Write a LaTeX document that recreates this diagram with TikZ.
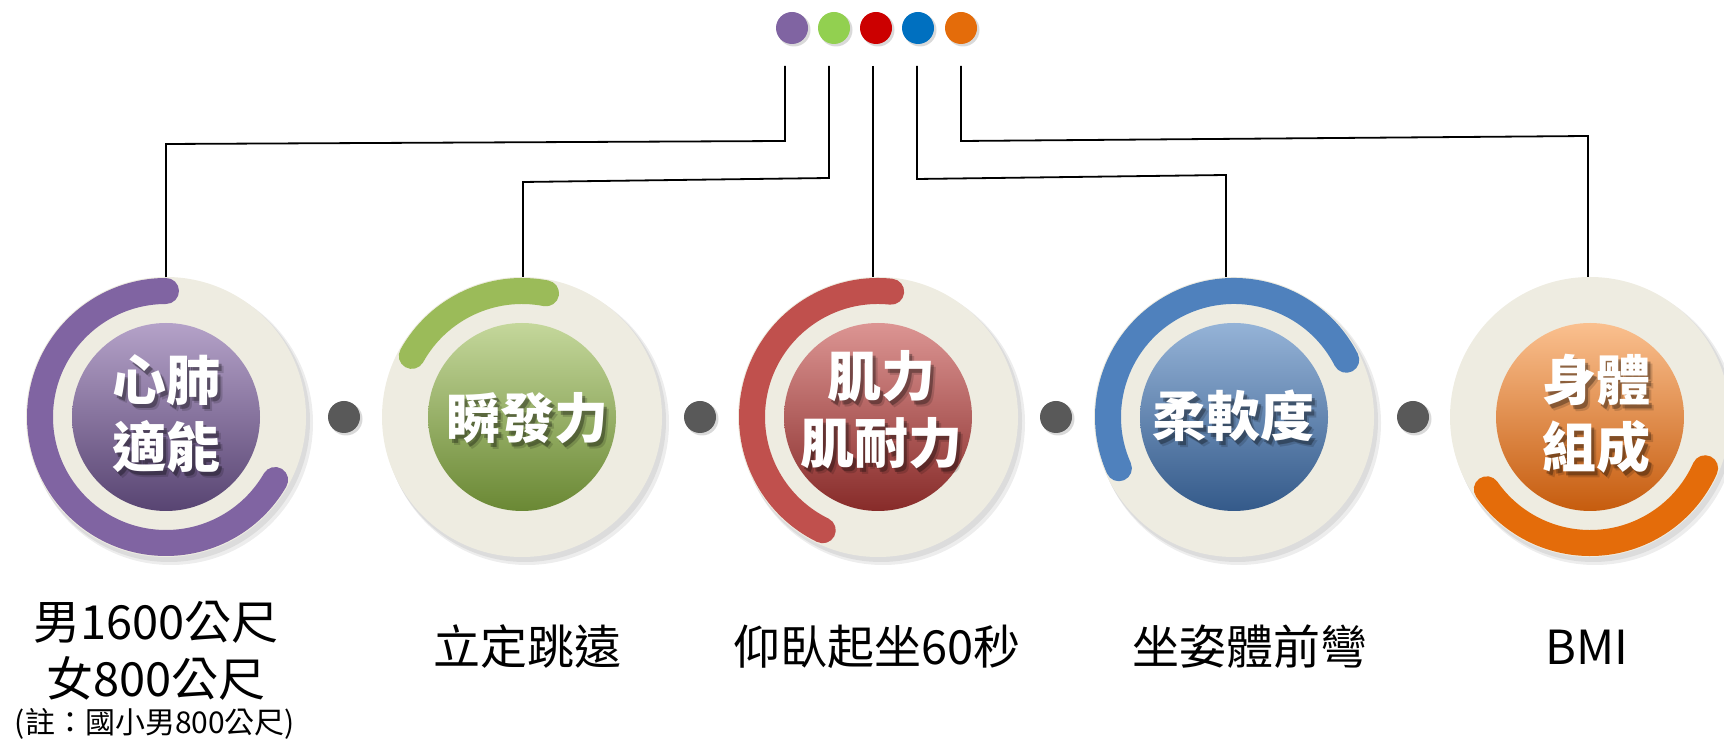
\documentclass[tikz,border=0pt]{standalone}
\usepackage{fontspec}
\setmainfont{Noto Sans CJK TC}
\definecolor{beige}{HTML}{EEECE1}
\definecolor{dotgray}{HTML}{595959}
\definecolor{pArc}{HTML}{8064A2}
\definecolor{gArc}{HTML}{9BBB59}
\definecolor{rArc}{HTML}{C0504D}
\definecolor{bArc}{HTML}{4F81BD}
\definecolor{oArc}{HTML}{E46C0A}
\definecolor{pTop}{HTML}{B4A2C8}\definecolor{pMid}{HTML}{8266A4}\definecolor{pBot}{HTML}{584472}
\definecolor{gTop}{HTML}{C4D79B}\definecolor{gMid}{HTML}{9BBB59}\definecolor{gBot}{HTML}{6A8834}
\definecolor{rTop}{HTML}{DC9593}\definecolor{rMid}{HTML}{C0504D}\definecolor{rBot}{HTML}{872B29}
\definecolor{bTop}{HTML}{95B3D7}\definecolor{bMid}{HTML}{5383BE}\definecolor{bBot}{HTML}{345A8A}
\definecolor{oTop}{HTML}{FAC08F}\definecolor{oMid}{HTML}{F59A4E}\definecolor{oBot}{HTML}{C65C0E}
\definecolor{topP}{HTML}{8064A2}
\definecolor{topG}{HTML}{92D050}
\definecolor{topR}{HTML}{CC0000}
\definecolor{topB}{HTML}{0070C0}
\definecolor{topO}{HTML}{E46C0A}
\begin{document}
\begin{tikzpicture}[x=1pt,y=1pt,
  ring/.style={circle, fill=beige, minimum size=280pt, inner sep=0pt},
  arcline/.style={line width=26pt, line cap=round},
  conn/.style={line width=1.8pt, black},
  topdot/.style={circle, minimum size=32pt, inner sep=0pt},
  sepdot/.style={circle, fill=dotgray, minimum size=32pt, inner sep=0pt},
  titletext/.style={text=white, font=\fontsize{54}{67}\selectfont\bfseries, align=center, inner sep=0pt},
  titleshadow/.style={text=black, text opacity=0.3, font=\fontsize{54}{67}\selectfont\bfseries, align=center, inner sep=0pt},
  bottomlabel/.style={font=\fontsize{47}{56}\selectfont, text=black, inner sep=0pt},
  softshadow/.style={fill=black, opacity=0.07}
]
\useasboundingbox (0,0) rectangle (1724,744);

% ---- top dots
\foreach \nm/\xx/\cc in {d1/792/topP, d2/834/topG, d3/876/topR, d4/918/topB, d5/961/topO}{
  \fill[softshadow, opacity=0.15] (\xx+2,714) circle[radius=16.5];
  \node[topdot, fill=\cc] (\nm) at (\xx,716) {};
}

% ---- rings with shadows
\foreach \nm/\xx in {c1/166, c2/522, c3/878, c4/1234, c5/1590}{
  \fill[softshadow] (\xx+3,323) circle[radius=141];
  \fill[softshadow] (\xx+5,321) circle[radius=142];
  \node[ring] (\nm) at (\xx,327) {};
}

% ---- separator dots
\foreach \nm/\xx in {s1/344, s2/700, s3/1056, s4/1413}{
  \fill[softshadow, opacity=0.15] (\xx+2,325) circle[radius=16.5];
  \node[sepdot] (\nm) at (\xx,327) {};
}

% ---- arcs
\draw[arcline, pArc, shift={(c1.center)}] (90:126) arc[start angle=90, end angle=330, radius=126];
\draw[arcline, gArc, shift={(c2.center)}] (79:126) arc[start angle=79, end angle=151, radius=126];
\draw[arcline, rArc, shift={(c3.center)}] (84:126) arc[start angle=84, end angle=244, radius=126];
\draw[arcline, bArc, shift={(c4.center)}] (27:126) arc[start angle=27, end angle=204, radius=126];
\draw[arcline, oArc, shift={(c5.center)}] (215:126) arc[start angle=215, end angle=336, radius=126];

% ---- inner disks
\shade[top color=pTop, middle color=pMid, bottom color=pBot] (c1.center) circle[radius=94];
\shade[top color=gTop, middle color=gMid, bottom color=gBot] (c2.center) circle[radius=94];
\shade[top color=rTop, middle color=rMid, bottom color=rBot] (c3.center) circle[radius=94];
\shade[top color=bTop, middle color=bMid, bottom color=bBot] (c4.center) circle[radius=94];
\shade[top color=oTop, middle color=oMid, bottom color=oBot] (c5.center) circle[radius=94];

% ---- titles
\foreach \nm/\xx/\yy/\txt in {t1/166/330/{心肺\\適能}, t2/527/326/{瞬發力}, t3/881/334/{肌力\\肌耐力}, t4/1233/328/{柔軟度}, t5/1596/330/{身體\\組成}}{
  \node[titleshadow] at (\xx+3,\yy-4) {\txt};
  \node[titleshadow, text opacity=0.15] at (\xx+5,\yy-6) {\txt};
  \node[titletext] (\nm) at (\xx,\yy) {\txt};
}

% ---- connectors
\coordinate (a1) at (785,678); \coordinate (a1b) at (785,603); \coordinate (a1c) at (166,600);
\coordinate (a2) at (829,678); \coordinate (a2b) at (829,566); \coordinate (a2c) at (523,562);
\coordinate (a3) at (873,678);
\coordinate (a4) at (917,678); \coordinate (a4b) at (917,565); \coordinate (a4c) at (1226,569);
\coordinate (a5) at (961,678); \coordinate (a5b) at (961,603); \coordinate (a5c) at (1588,608);
\draw[conn] (a1) -- (a1b) -- (a1c) -- (a1c |- c1.north);
\draw[conn] (a2) -- (a2b) -- (a2c) -- (a2c |- c2.north);
\draw[conn] (a3) -- (a3 |- c3.north);
\draw[conn] (a4) -- (a4b) -- (a4c) -- (a4c |- c4.north);
\draw[conn] (a5) -- (a5b) -- (a5c) -- (a5c |- c5.north);

% ---- bottom labels
\node[bottomlabel] (l1a) at (156,122) {男1600公尺};
\node[bottomlabel] (l1b) at (156,66) {女800公尺};
\node[bottomlabel, font=\fontsize{30}{34}\selectfont] (l1c) at (155,20) {(註：國小男800公尺)};
\node[bottomlabel] (l2) at (527,97) {立定跳遠};
\node[bottomlabel] (l3) at (877,97) {仰臥起坐60秒};
\node[bottomlabel] (l4) at (1250,97) {坐姿體前彎};
\node[bottomlabel] (l5) at (1587,97) {BMI};
\end{tikzpicture}
\end{document}
